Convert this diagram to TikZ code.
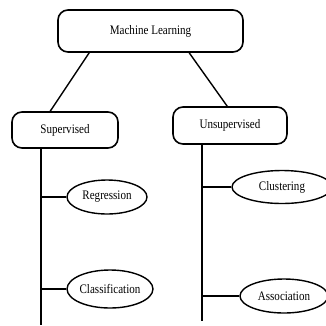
\documentclass[tikz,border=0pt]{standalone}
\usepackage{fontspec}
\setmainfont[FakeStretch=0.85]{Liberation Serif}
\usetikzlibrary{shapes.geometric}

\begin{document}
\begin{tikzpicture}[x=1pt, y=-1pt, font=\fontsize{13}{15}\selectfont]

\useasboundingbox (0, 0) rectangle (326, 325) ;

\tikzstyle{class box} = [draw, line width=1.6pt, rounded corners=10pt, inner sep=0pt]
\tikzstyle{method oval} = [draw, ellipse, line width=1.4pt, inner sep=0pt]
\tikzstyle{tree line} = [line width=1.4pt]

% boxes

\node [class box, minimum width=185pt, minimum height=42pt] (ml) at (150.5, 31) {Machine Learning} ;
\node [class box, minimum width=106pt, minimum height=36pt] (sup) at (65, 130) {Supervised\hspace{18pt}} ;
\node [class box, minimum width=114pt, minimum height=37pt] (unsup) at (230, 125.5) {Unsupervised} ;

\draw [tree line] ([xshift=32pt]ml.south west) -- ([xshift=39pt]sup.north west) ;
\draw [tree line] ([xshift=132pt]ml.south west) -- ([xshift=55pt]unsup.north west) ;

% trunks

\coordinate (supend) at (41, 325) ;
\coordinate (unsupend) at (202, 321) ;

\draw [tree line] (sup.south -| supend) -- (supend) ;
\draw [tree line] (unsup.south -| unsupend) -- (unsupend) ;

% ovals

\node [method oval, minimum width=80pt, minimum height=34pt] (reg) at (107, 197) {Regression} ;
\node [method oval, minimum width=85pt, minimum height=38pt] (cls) at (110, 289) {Classification} ;
\node [method oval, minimum width=100pt, minimum height=33pt] (clu) at (282, 187) {Clustering} ;
\node [method oval, minimum width=88pt, minimum height=34pt] (ass) at (284, 296) {Association} ;

\draw [tree line] (reg.west -| supend) -- (reg.west) ;
\draw [tree line] (cls.west -| supend) -- (cls.west) ;
\draw [tree line] (clu.west -| unsupend) -- (clu.west) ;
\draw [tree line] (ass.west -| unsupend) -- (ass.west) ;

\end{tikzpicture}
\end{document}
